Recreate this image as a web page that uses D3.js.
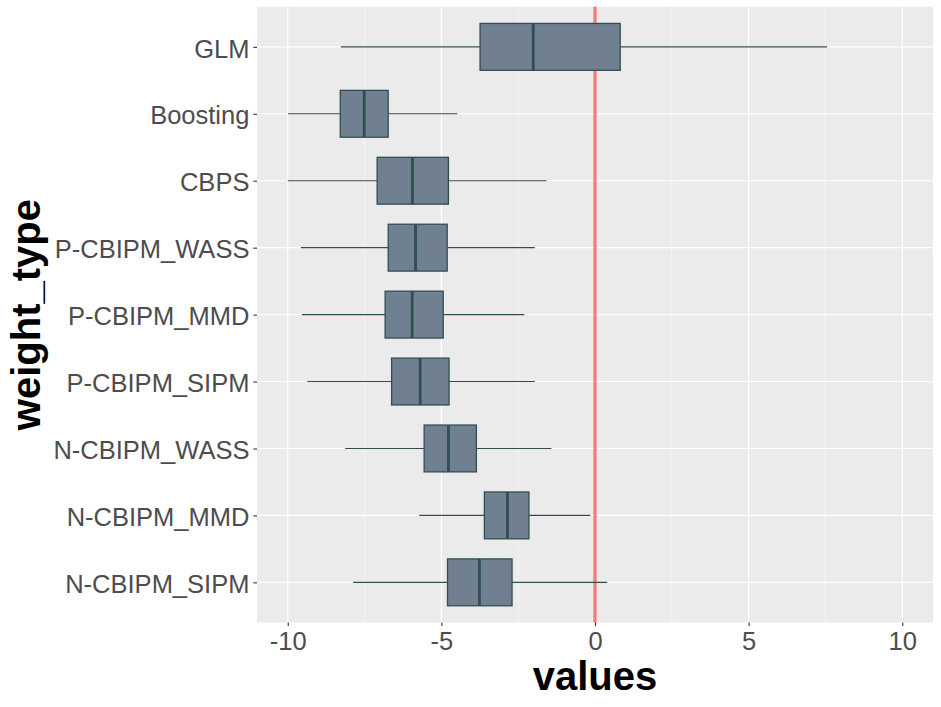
<!DOCTYPE html>
<html>
<head>
<meta charset="utf-8">
<script src="https://cdn.jsdelivr.net/npm/d3@7"></script>
<style>
body { margin: 0; background: #fff; }
svg { display: block; }
</style>
</head>
<body>
<svg id="chart" width="941" height="707"></svg>
<script>
// ---- data (top to bottom) ----
const categories = ["GLM", "Boosting", "CBPS", "P-CBIPM_WASS", "P-CBIPM_MMD", "P-CBIPM_SIPM", "N-CBIPM_WASS", "N-CBIPM_MMD", "N-CBIPM_SIPM"];
const whiskerLow  = [-8.27, -9.99, -10.0, -9.57, -9.54, -9.36, -8.13, -5.72, -7.87];
const q1          = [-3.74, -8.29, -7.09, -6.73, -6.83, -6.62, -5.56, -3.60, -4.80];
const medians     = [-2.01, -7.51, -5.94, -5.84, -5.95, -5.69, -4.77, -2.85, -3.76];
const q3          = [ 0.82, -6.73, -4.77, -4.81, -4.94, -4.75, -3.86, -2.15, -2.70];
const whiskerHigh = [ 7.55, -4.48, -1.58, -1.96, -2.30, -1.96, -1.42, -0.15,  0.40];
const xTicks = [-10, -5, 0, 5, 10];
const xMinorTicks = [-7.5, -2.5, 2.5, 7.5];
const refLine = 0;
const xTitle = "values";
const yTitle = "weight_type";

const rows = categories.map((c, i) => ({
  cat: c, lo: whiskerLow[i], q1: q1[i], med: medians[i], q3: q3[i], hi: whiskerHigh[i]
}));

// ---- layout ----
const panel = { left: 257, right: 933, top: 6.7, bottom: 622.5 };
const svg = d3.select("#chart");

const x = d3.scaleLinear().domain([-11, 11]).range([panel.left, panel.right]);
const y = d3.scalePoint().domain(categories).range([panel.top, panel.bottom]).padding(0.6);
const boxH = y.step() * 0.7;

// panel background
svg.append("rect")
  .attr("x", panel.left).attr("y", panel.top)
  .attr("width", panel.right - panel.left).attr("height", panel.bottom - panel.top)
  .attr("fill", "#EBEBEB");

// minor grid
svg.append("g").selectAll("line").data(xMinorTicks).join("line")
  .attr("x1", d => x(d)).attr("x2", d => x(d))
  .attr("y1", panel.top).attr("y2", panel.bottom)
  .attr("stroke", "#fff").attr("stroke-width", 0.55);

// major grid
svg.append("g").selectAll("line").data(xTicks).join("line")
  .attr("x1", d => x(d)).attr("x2", d => x(d))
  .attr("y1", panel.top).attr("y2", panel.bottom)
  .attr("stroke", "#fff").attr("stroke-width", 1.1);
svg.append("g").selectAll("line").data(categories).join("line")
  .attr("x1", panel.left).attr("x2", panel.right)
  .attr("y1", d => y(d)).attr("y2", d => y(d))
  .attr("stroke", "#fff").attr("stroke-width", 1.1);

// reference line
svg.append("line")
  .attr("x1", x(refLine)).attr("x2", x(refLine))
  .attr("y1", panel.top).attr("y2", panel.bottom)
  .attr("stroke", "#FA7A76").attr("stroke-width", 3.3);

// boxplots
const g = svg.append("g");
const box = g.selectAll("g.box").data(rows).join("g").attr("class", "box");
box.append("line")
  .attr("x1", d => x(d.lo)).attr("x2", d => x(d.q1))
  .attr("y1", d => y(d.cat)).attr("y2", d => y(d.cat))
  .attr("stroke", "#2F4F4F").attr("stroke-width", 1.1);
box.append("line")
  .attr("x1", d => x(d.q3)).attr("x2", d => x(d.hi))
  .attr("y1", d => y(d.cat)).attr("y2", d => y(d.cat))
  .attr("stroke", "#2F4F4F").attr("stroke-width", 1.1);
box.append("rect")
  .attr("x", d => x(d.q1)).attr("width", d => x(d.q3) - x(d.q1))
  .attr("y", d => y(d.cat) - boxH / 2).attr("height", boxH)
  .attr("fill", "#708090").attr("stroke", "#2F4F4F").attr("stroke-width", 1.3);
box.append("line")
  .attr("x1", d => x(d.med)).attr("x2", d => x(d.med))
  .attr("y1", d => y(d.cat) - boxH / 2).attr("y2", d => y(d.cat) + boxH / 2)
  .attr("stroke", "#2F4F4F").attr("stroke-width", 2.8);

// axes
const font = "'Liberation Sans', Arial, sans-serif";
const xAxis = svg.append("g")
  .attr("transform", `translate(0,${panel.bottom})`)
  .call(d3.axisBottom(x).tickValues(xTicks).tickSize(3.6).tickPadding(6).tickFormat(d3.format("d")));
xAxis.select(".domain").remove();
xAxis.selectAll(".tick line").attr("stroke", "#333").attr("stroke-width", 1.1);
xAxis.selectAll(".tick text")
  .attr("fill", "#4D4D4D").style("font-family", font).style("font-size", "25.5px")
  .text(d => d < 0 ? "-" + Math.abs(d) : d);

const yAxis = svg.append("g")
  .attr("transform", `translate(${panel.left},0)`)
  .call(d3.axisLeft(y).tickSize(3.6).tickPadding(4));
yAxis.select(".domain").remove();
yAxis.selectAll(".tick line").attr("stroke", "#333").attr("stroke-width", 1.1);
yAxis.selectAll(".tick text")
  .attr("fill", "#4D4D4D").style("font-family", font).style("font-size", "25.5px")
  .attr("dy", "0.4em");

// titles
svg.append("text")
  .attr("x", (panel.left + panel.right) / 2).attr("y", 690)
  .attr("text-anchor", "middle")
  .style("font-family", font).style("font-size", "40px").style("font-weight", "bold")
  .attr("fill", "#000").text(xTitle);
svg.append("text")
  .attr("transform", `translate(40,${(panel.top + panel.bottom) / 2}) rotate(-90)`)
  .attr("text-anchor", "middle")
  .style("font-family", font).style("font-size", "40px").style("font-weight", "bold")
  .attr("fill", "#000").text(yTitle);
</script>
</body>
</html>
